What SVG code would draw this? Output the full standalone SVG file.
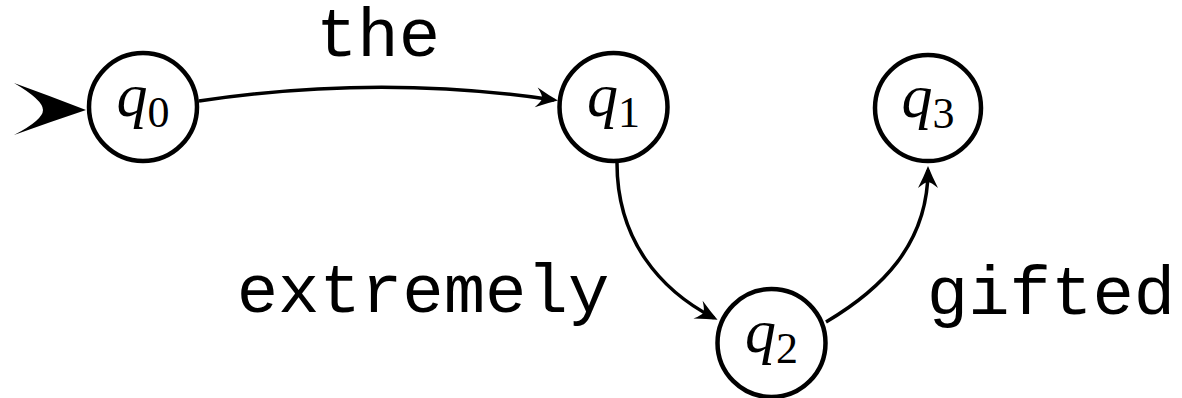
<svg xmlns="http://www.w3.org/2000/svg" width="1182" height="398" viewBox="0 0 1182 398">
  <style>
    .state { fill: #fff; stroke: #000; stroke-width: 4.5; }
    .qlabel { font-family: "Liberation Serif", serif; fill: #000; }
    .qlabel .q { font-style: italic; font-size: 62px; }
    .qlabel .sub { font-size: 44px; }
    .edge { fill: none; stroke: #000; stroke-width: 3.5; marker-end: url(#tip); }
    .word { font-family: "Liberation Mono", monospace; font-size: 69px; fill: #000; text-anchor: middle; }
  </style>
  <defs>
    <marker id="tip" markerUnits="userSpaceOnUse" viewBox="-24 -12 26 24" refX="-4" refY="0" markerWidth="26" markerHeight="24" orient="auto">
      <path d="M0,0 Q-10,-4 -22,-10 Q-16,-3 -16,0 Q-16,3 -22,10 Q-10,4 0,0 Z" fill="#000"/>
    </marker>
  </defs>

  <!-- initial-state arrow -->
  <path id="start" d="M86,110 Q50,96 14,83 Q43,100 43,110 Q43,120 14,135 Q50,122 86,110 Z" fill="#000"/>

  <!-- transitions -->
  <g id="edges">
    <path class="edge" d="M199,101 Q380,74 554,100"/>
    <path class="edge" d="M617,163 C617,240 660,290 714,318"/>
    <path class="edge" d="M826,322 C880,290 928,245 928,170"/>
  </g>

  <g id="labels">
    <text class="word" x="378" y="56">the</text>
    <text class="word" x="423" y="312">extremely</text>
    <text class="word" x="1051" y="314">gifted</text>
  </g>

  <g id="q0">
    <circle class="state" cx="143" cy="107" r="54"/>
    <text class="qlabel" x="143" y="116" text-anchor="middle"><tspan class="q">q</tspan><tspan class="sub" dy="11">0</tspan></text>
  </g>
  <g id="q1">
    <circle class="state" cx="613.5" cy="107" r="54"/>
    <text class="qlabel" x="613.5" y="116" text-anchor="middle"><tspan class="q">q</tspan><tspan class="sub" dy="11">1</tspan></text>
  </g>
  <g id="q3">
    <circle class="state" cx="928" cy="108" r="53"/>
    <text class="qlabel" x="928" y="117" text-anchor="middle"><tspan class="q">q</tspan><tspan class="sub" dy="11">3</tspan></text>
  </g>
  <g id="q2">
    <circle class="state" cx="771.5" cy="343" r="54"/>
    <text class="qlabel" x="771.5" y="352" text-anchor="middle"><tspan class="q">q</tspan><tspan class="sub" dy="11">2</tspan></text>
  </g>
</svg>
